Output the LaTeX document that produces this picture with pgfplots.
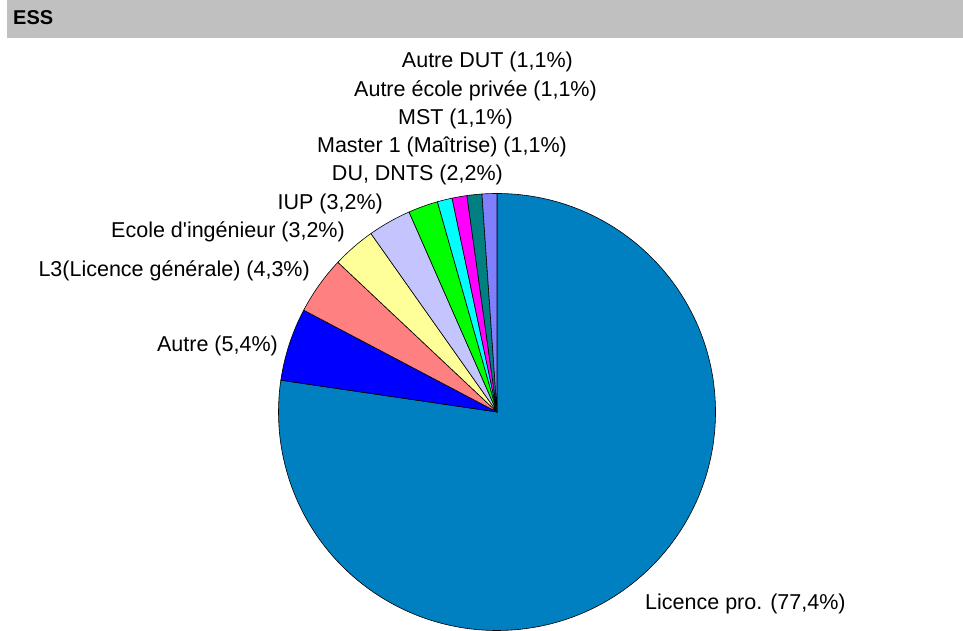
\documentclass[border=0pt]{standalone}
\usepackage{pgfplots}
\pgfplotsset{compat=1.18}
\usepackage{fontspec}
\setmainfont{Liberation Sans}

\definecolor{cLic}{RGB}{0,128,192}
\definecolor{cAutre}{RGB}{0,0,255}
\definecolor{cLtrois}{RGB}{255,128,128}
\definecolor{cEcole}{RGB}{255,255,153}
\definecolor{cIUP}{RGB}{196,196,255}
\definecolor{cDU}{RGB}{0,255,0}
\definecolor{cMaster}{RGB}{0,255,255}
\definecolor{cMST}{RGB}{255,0,255}
\definecolor{cPrivee}{RGB}{0,128,128}
\definecolor{cDUT}{RGB}{128,128,255}
\definecolor{band}{RGB}{192,192,192}

\begin{document}
\begin{tikzpicture}
\begin{axis}[
    x=1pt, y=1pt,
    xmin=0, xmax=963, ymin=0, ymax=630,
    hide axis,
    clip=false,
]
    % frame of the page
    \path (axis cs:0,0) rectangle (axis cs:963,630);
    % title band
    \fill[band] (axis cs:7,592) rectangle (axis cs:963,630);
    \node[anchor=base west, font=\fontsize{20}{23}\selectfont\bfseries, inner sep=0pt]
        at (axis cs:13,605) {ESS};

    % pie slices, clockwise from 12 o'clock (percentages as shown, sum 100.1)
    \def\cx{497}\def\cy{218}\def\r{218.5}
    \gdef\angacc{90}
    \foreach \v/\c in {77.4/cLic, 5.4/cAutre, 4.3/cLtrois, 3.2/cEcole, 3.2/cIUP,
                       2.2/cDU, 1.1/cMaster, 1.1/cMST, 1.1/cPrivee, 1.1/cDUT} {
        \pgfmathsetmacro\b{\angacc-3.596404*\v}
        \edef\temp{\noexpand\filldraw[fill=\c, draw=black, line width=0.6pt, line join=round]
            (axis cs:\cx,\cy) -- ++(\angacc:\r pt)
            arc[start angle=\angacc, end angle=\b, radius=\r pt] -- cycle;}
        \temp
        \xdef\angacc{\b}
    }

    % labels
    \begin{scope}[every node/.style={inner sep=0pt, font=\fontsize{21.5}{25}\selectfont}]
        \node[anchor=base east] at (axis cs:573,562) {Autre DUT (1,1\%)};
        \node[anchor=base east] at (axis cs:597,533) {Autre école privée (1,1\%)};
        \node[anchor=base east] at (axis cs:513,505) {MST (1,1\%)};
        \node[anchor=base east] at (axis cs:567,477) {Master 1 (Maîtrise) (1,1\%)};
        \node[anchor=base east] at (axis cs:503,449) {DU, DNTS (2,2\%)};
        \node[anchor=base east] at (axis cs:383,420) {IUP (3,2\%)};
        \node[anchor=base east] at (axis cs:345,392) {Ecole d\textquotesingle ingénieur (3,2\%)};
        \node[anchor=base east] at (axis cs:310,353) {L3(Licence générale) (4,3\%)};
        \node[anchor=base east] at (axis cs:278,278) {Autre (5,4\%)};
        \node[anchor=base west] at (axis cs:645,20) {Licence pro. (77,4\%)};
    \end{scope}
\end{axis}
\end{tikzpicture}
\end{document}
